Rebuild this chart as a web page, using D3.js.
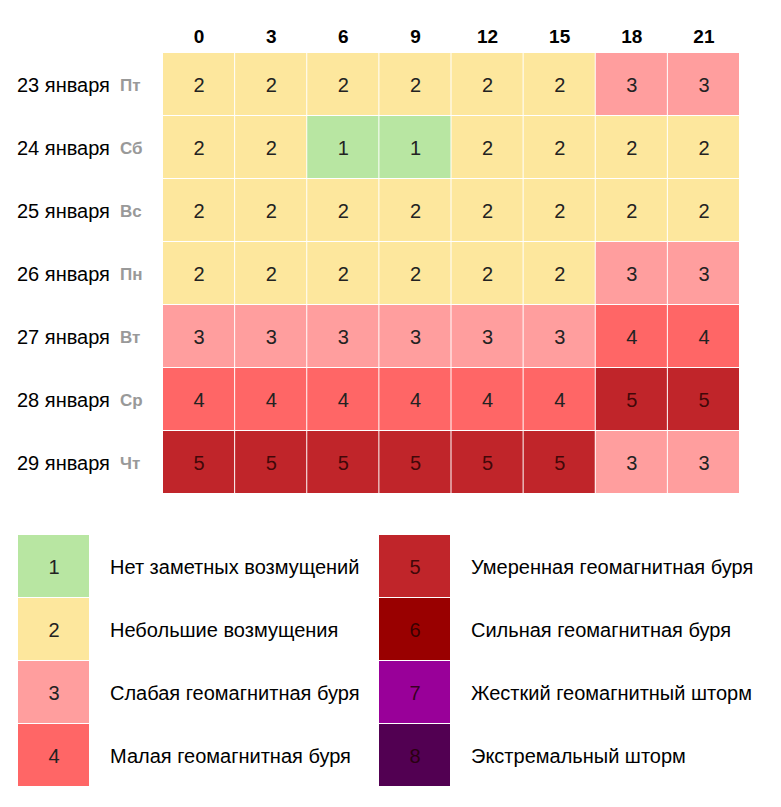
<!DOCTYPE html>
<html>
<head>
<meta charset="utf-8">
<script src="https://cdn.jsdelivr.net/npm/d3@7"></script>
<style>
  body { margin: 0; background: #fff; }
  text { font-family: "Liberation Sans", Arial, sans-serif; }
</style>
</head>
<body>
<div id="chart-area"></div>
<script>
// hours of the forecast (columns)
var hours = ['0', '3', '6', '9', '12', '15', '18', '21'];
// dates and week days (rows)
var dates = ['23 января', '24 января', '25 января', '26 января', '27 января', '28 января', '29 января'];
var weekdays = ['Пт', 'Сб', 'Вс', 'Пн', 'Вт', 'Ср', 'Чт'];
// Kp index for each row
var kp = [
    [2, 2, 2, 2, 2, 2, 3, 3],
    [2, 2, 1, 1, 2, 2, 2, 2],
    [2, 2, 2, 2, 2, 2, 2, 2],
    [2, 2, 2, 2, 2, 2, 3, 3],
    [3, 3, 3, 3, 3, 3, 4, 4],
    [4, 4, 4, 4, 4, 4, 5, 5],
    [5, 5, 5, 5, 5, 5, 3, 3]
];
// legend
var levels = [1, 2, 3, 4, 5, 6, 7, 8];
var levelNames = [
    'Нет заметных возмущений',
    'Небольшие возмущения',
    'Слабая геомагнитная буря',
    'Малая геомагнитная буря',
    'Умеренная геомагнитная буря',
    'Сильная геомагнитная буря',
    'Жесткий геомагнитный шторм',
    'Экстремальный шторм'
];
var levelColors = ['#b8e6a2', '#fde79d', '#ff9e9e', '#ff6666', '#c0252a', '#990000', '#990099', '#520052'];

var width = 781;
var height = 807;

var svg = d3.select('#chart-area')
    .append('svg')
        .attr('width', width)
        .attr('height', height);

var color = d3.scaleOrdinal()
    .domain(levels)
    .range(levelColors);

var x = d3.scaleBand()
    .domain(hours)
    .range([163, 740]);

var y = d3.scaleBand()
    .domain(dates)
    .range([53, 494]);

// column headers
svg.append('g')
    .selectAll('text')
    .data(hours)
    .enter()
    .append('text')
        .attr('x', (d) => { return x(d) + x.bandwidth() / 2 })
        .attr('y', 43)
        .attr('text-anchor', 'middle')
        .attr('font-size', '19px')
        .attr('font-weight', 'bold')
        .attr('fill', '#000')
        .text((d) => { return d });

// row labels
var rowLabels = svg.append('g')
    .selectAll('g')
    .data(dates)
    .enter()
    .append('g');

rowLabels.append('text')
    .attr('x', 17)
    .attr('y', (d) => { return y(d) + y.bandwidth() / 2 + 7 })
    .attr('font-size', '20px')
    .attr('fill', '#000')
    .text((d) => { return d });

rowLabels.append('text')
    .attr('x', 120)
    .attr('y', (d) => { return y(d) + y.bandwidth() / 2 + 6 })
    .attr('font-size', '17px')
    .attr('font-weight', 'bold')
    .attr('fill', '#999')
    .text((d, i) => { return weekdays[i] });

// cells
var cells = [];
kp.forEach((row, i) => {
    row.forEach((v, j) => {
        cells.push({ date: dates[i], hour: hours[j], value: v });
    });
});

var cellG = svg.append('g')
    .selectAll('g')
    .data(cells)
    .enter()
    .append('g');

cellG.append('rect')
    .attr('x', (d) => { return x(d.hour) })
    .attr('y', (d) => { return y(d.date) })
    .attr('width', x.bandwidth() - 1)
    .attr('height', y.bandwidth() - 1)
    .attr('fill', (d) => { return color(d.value) });

cellG.append('text')
    .attr('x', (d) => { return x(d.hour) + x.bandwidth() / 2 })
    .attr('y', (d) => { return y(d.date) + y.bandwidth() / 2 + 7 })
    .attr('text-anchor', 'middle')
    .attr('font-size', '20px')
    .attr('fill', (d) => { return d.value >= 5 ? 'rgba(30,0,0,0.8)' : '#222' })
    .text((d) => { return d.value });

// legend, two columns of four
var ly = d3.scaleBand()
    .domain([0, 1, 2, 3])
    .range([535, 787]);

var legend = svg.append('g')
    .selectAll('g')
    .data(levels)
    .enter()
    .append('g')
        .attr('transform', (d, i) => {
            var lx = i < 4 ? 18 : 379;
            return 'translate(' + lx + ',' + ly(i % 4) + ')';
        });

legend.append('rect')
    .attr('width', 71)
    .attr('height', ly.bandwidth() - 1)
    .attr('fill', (d) => { return color(d) });

legend.append('text')
    .attr('x', 36)
    .attr('y', ly.bandwidth() / 2 + 7)
    .attr('text-anchor', 'middle')
    .attr('font-size', '20px')
    .attr('fill', (d) => { return d >= 5 ? 'rgba(30,0,0,0.8)' : '#222' })
    .text((d) => { return d });

legend.append('text')
    .attr('x', 92)
    .attr('y', ly.bandwidth() / 2 + 7)
    .attr('font-size', '20px')
    .attr('fill', '#000')
    .text((d, i) => { return levelNames[i] });
</script>
</body>
</html>
